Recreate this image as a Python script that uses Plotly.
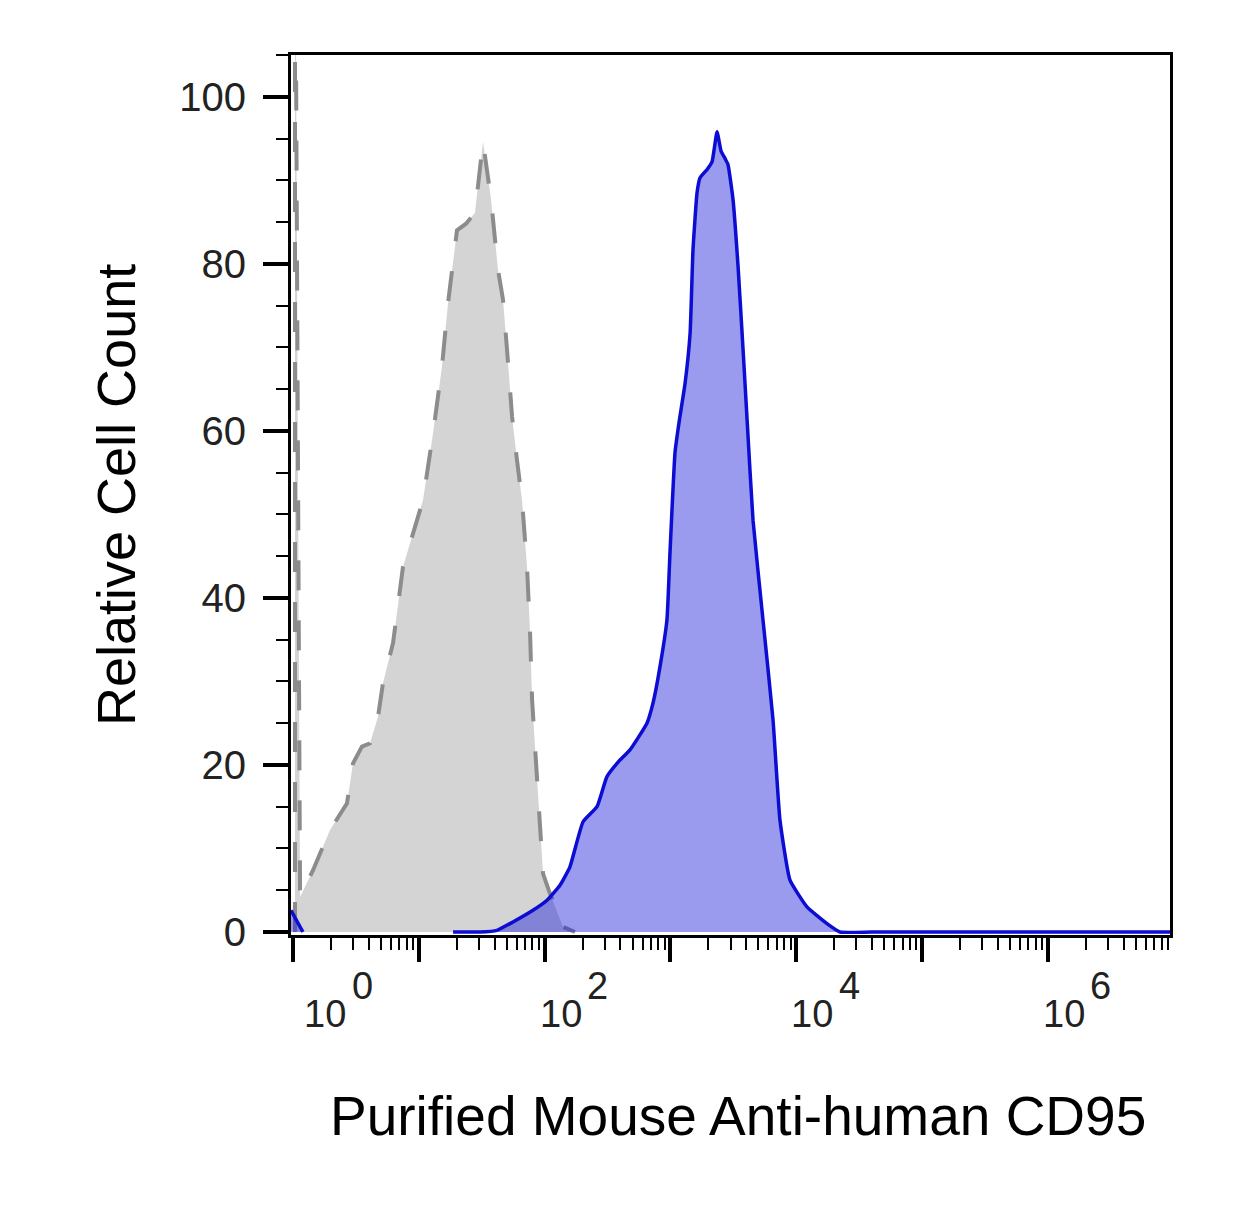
import numpy as np
import plotly.graph_objects as go

# Histogram outlines: x = log10 fluorescence, y = relative count
gray_log = [0.016, 0.016, 0.056, 0.159, 0.294, 0.429, 0.477, 0.548, 0.612, 0.676,
            0.715, 0.795, 0.874, 0.946, 1.033, 1.113, 1.184, 1.232, 1.264, 1.303,
            1.375, 1.446, 1.510, 1.574, 1.629, 1.669, 1.701, 1.741, 1.780, 1.820,
            1.860, 1.884, 1.900, 1.939, 1.987, 2.042, 2.146, 2.241]
gray_count = [0, 130, 4.2, 7.4, 12.2, 15.4, 20.2, 22.2, 22.6, 25.8,
              29.8, 34.6, 43.7, 47.3, 51.7, 59.7, 67.7, 75.3, 79.3, 84.0,
              84.8, 86.1, 94.6, 87.7, 79.3, 75.7, 69.7, 61.7, 56.5, 51.7,
              43.7, 35.8, 27.8, 17.8, 7.0, 4.6, 0.6, 0]

blue_blip_log = [-0.016, 0.079]
blue_blip_count = [2.6, 0]

blue_log = [1.272, 1.486, 1.621, 1.748, 1.907, 2.019, 2.122, 2.201, 2.305, 2.416,
            2.495, 2.599, 2.678, 2.813, 2.861, 2.917, 2.972, 2.996, 3.036, 3.068,
            3.116, 3.156, 3.179, 3.211, 3.235, 3.291, 3.330, 3.370, 3.402, 3.434,
            3.457, 3.497, 3.537, 3.577, 3.609, 3.656, 3.735, 3.815, 3.870, 3.950,
            4.085, 4.244, 4.347, 4.6, 5.5, 6.97]
blue_count = [0, 0, 0.2, 1.2, 2.6, 3.8, 5.6, 7.8, 13.2, 15.0,
              18.6, 20.6, 21.8, 25.0, 27.4, 31.8, 37.4, 45.4, 57.4, 61.0,
              65.7, 71.7, 81.7, 88.5, 90.3, 91.3, 92.2, 95.8, 93.5, 92.6,
              91.9, 87.7, 79.7, 69.7, 61.3, 49.3, 37.4, 25.4, 13.4, 6.2,
              3.0, 1.0, 0, 0, 0, 0]

x_decades = [0, 1, 2, 3, 4, 5, 6]
x_label_decades = [0, 2, 4, 6]
x_label_shift = [32, 16, 16, 16]
y_ticks = [0, 20, 40, 60, 80, 100]

FONT = "Arial, Liberation Sans, sans-serif"
GRAY_FILL = "#d4d4d4"
GRAY_LINE = "#8c8c8c"
BLUE_LINE = "#0c0cd2"
BLUE_FILL = "rgba(30,30,220,0.45)"

fig = go.Figure()

fig.add_trace(go.Scatter(x=np.power(10.0, gray_log), y=gray_count, mode="lines",
                         fill="tozeroy", fillcolor=GRAY_FILL,
                         line=dict(color=GRAY_LINE, width=4, dash="30px,30px"),
                         showlegend=False))
fig.add_trace(go.Scatter(x=np.power(10.0, blue_blip_log), y=blue_blip_count, mode="lines",
                         fill="tozeroy", fillcolor=BLUE_FILL,
                         line=dict(color=BLUE_LINE, width=3.5), showlegend=False))
fig.add_trace(go.Scatter(x=np.power(10.0, blue_log), y=blue_count, mode="lines",
                         fill="tozeroy", fillcolor=BLUE_FILL,
                         line=dict(color=BLUE_LINE, width=3.5, shape="spline", smoothing=0.4),
                         showlegend=False))

minor_vals = [m * 10.0 ** k for k in range(0, 7) for m in range(2, 10)]

fig.update_xaxes(type="log", range=[-0.016, 6.97],
                 tickvals=[10.0 ** k for k in x_decades], showticklabels=False,
                 ticks="outside", ticklen=24, tickwidth=4, tickcolor="black",
                 minor=dict(tickvals=minor_vals, ticks="outside", ticklen=12,
                            tickwidth=2, tickcolor="black", showgrid=False),
                 showline=True, linecolor="black", linewidth=3, mirror=True,
                 showgrid=False, zeroline=False)
fig.update_yaxes(range=[-0.36, 105.0], tickvals=y_ticks,
                 ticks="outside", ticklen=25, tickwidth=4, tickcolor="black",
                 minor=dict(dtick=5, ticks="outside", ticklen=12, tickwidth=2,
                            tickcolor="black", showgrid=False),
                 tickfont=dict(family=FONT, size=40, color="#222222"),
                 ticklabelstandoff=9,
                 showline=True, linecolor="black", linewidth=3, mirror=True,
                 showgrid=False, zeroline=False)

# x tick labels drawn as "10" plus a full size raised exponent
for d, shift in zip(x_label_decades, x_label_shift):
    fig.add_annotation(x=d, xref="x", y=0, yref="paper", text="10", showarrow=False,
                       xanchor="center", yanchor="middle", xshift=shift, yshift=-79,
                       font=dict(family=FONT, size=38, color="#222222"))
    fig.add_annotation(x=d, xref="x", y=0, yref="paper", text=str(d), showarrow=False,
                       xanchor="center", yanchor="middle", xshift=shift + 37, yshift=-51,
                       font=dict(family=FONT, size=38, color="#222222"))

fig.add_annotation(x=0.508, xref="paper", y=0, yref="paper",
                   text="Purified Mouse Anti-human CD95", showarrow=False,
                   xanchor="center", yanchor="top", yshift=-148,
                   font=dict(family=FONT, size=55, color="black"))
fig.add_annotation(x=0, xref="paper", y=0.5, yref="paper",
                   text="Relative Cell Count", showarrow=False, textangle=-90,
                   xanchor="center", yanchor="middle", xshift=-175,
                   font=dict(family=FONT, size=54, color="black"))

# the page body adds an 8px offset, so the figure is 8px smaller and margins shifted
fig.update_layout(width=1229, height=1224,
                  margin=dict(l=283, r=67, t=47, b=297, autoexpand=False),
                  plot_bgcolor="white", paper_bgcolor="white",
                  font=dict(family=FONT))

fig.write_html("out.html")
